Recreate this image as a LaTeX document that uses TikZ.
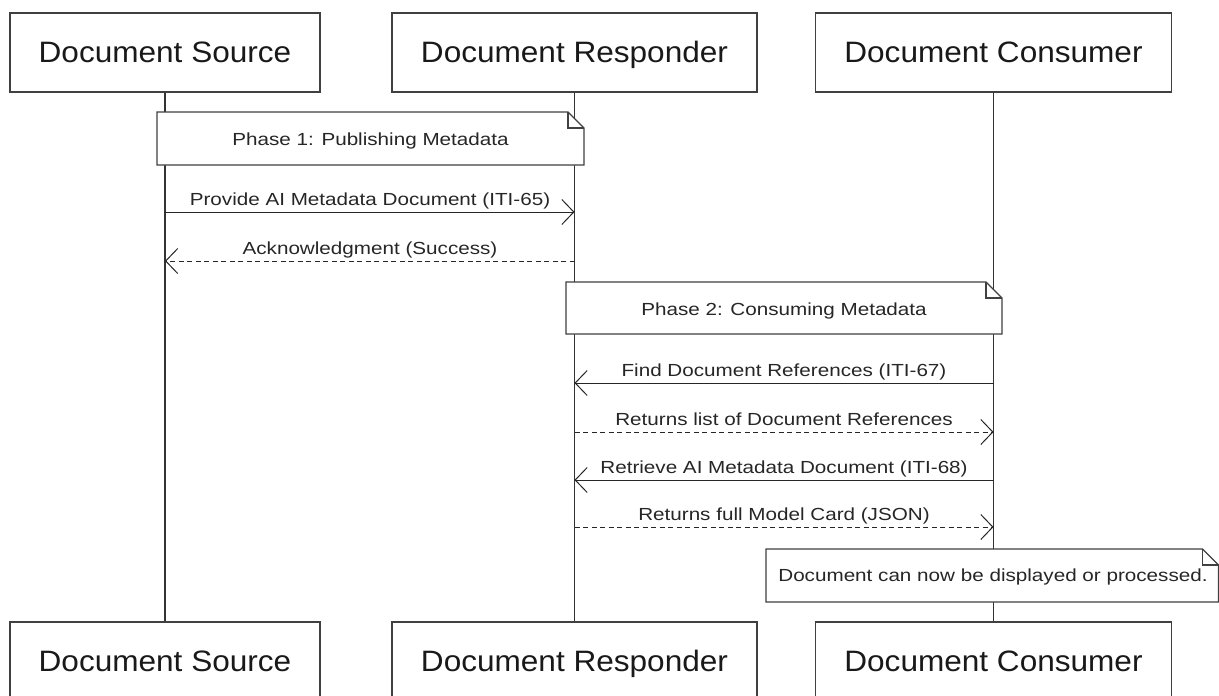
\documentclass[tikz,border=0pt]{standalone}
\usepackage{fontspec}
\setmainfont{Liberation Sans}
\newfontfamily\titlefont[FakeStretch=1.07]{Liberation Sans}
\newfontfamily\lblfont[FakeStretch=1.18]{Liberation Sans}
\usetikzlibrary{arrows.meta}
\pgfdeclarelayer{bg}
\pgfdeclarelayer{mid}
\pgfsetlayers{bg,mid,main}
\tikzset{
  actorbox/.style={draw=black!75, line width=1.2pt, fill=white, minimum height=79pt, inner sep=0pt,
    text height=19pt, text depth=0pt,
    font=\titlefont\fontsize{29.5}{30}\selectfont, text=black!90},
  lifeline/.style={draw=black!80, line width=1.2pt},
  msg/.style={draw=black!85, line width=1pt, -{Straight Barb[length=12pt,width=25pt,line width=1pt]}},
  reply/.style={msg, dash pattern=on 5pt off 3.5pt},
  lbl/.style={font=\lblfont\fontsize{17.5}{18}\selectfont, inner sep=0pt, anchor=base, text=black!85},
  notetext/.style={font=\lblfont\fontsize{17.5}{18}\selectfont, inner sep=0pt, anchor=base, text=black!85},
  noteline/.style={draw=black!75, line width=1.2pt, fill=white, line join=miter},
  foldline/.style={draw=black!75, line width=1.2pt}
}
\begin{document}
\begin{tikzpicture}[x=1pt,y=-1pt]
\useasboundingbox (0,0) rectangle (1219,696);
\clip (0,0) rectangle (1219,696);
% actors
\node[actorbox, minimum width=310pt] (srcT) at (165,52.5) {Document Source};
\node[actorbox, minimum width=365pt] (rspT) at (574.5,52.5) {Document Responder};
\node[actorbox, minimum width=356pt] (conT) at (993.5,52.5) {Document Consumer};
\node[actorbox, minimum width=310pt] (srcB) at (165,661.5) {Document Source};
\node[actorbox, minimum width=365pt] (rspB) at (574.5,661.5) {Document Responder};
\node[actorbox, minimum width=356pt] (conB) at (993.5,661.5) {Document Consumer};
% lifelines
\begin{pgfonlayer}{bg}
\draw[lifeline] (srcT.south) -- (srcB.north);
\draw[lifeline] (rspT.south) -- (rspB.north);
\draw[lifeline] (conT.south) -- (conB.north);
\end{pgfonlayer}
% notes
\node[notetext] (n1) at (370.5,145.5) {Phase 1: Publishing Metadata};
\node[notetext] (n2) at (784,315) {Phase 2: Consuming Metadata};
\node[notetext] (n3) at (993,581.5) {Document can now be displayed or processed.};
\begin{pgfonlayer}{mid}
\draw[noteline] (157,112) -- (568,112) -- (584,128) -- (584,165) -- (157,165) -- cycle;
\draw[foldline] (568,112) -- (568,128) -- (584,128);
\draw[noteline] (566,282) -- (986,282) -- (1002,298) -- (1002,334) -- (566,334) -- cycle;
\draw[foldline] (986,282) -- (986,298) -- (1002,298);
\draw[noteline] (766,549) -- (1202.5,549) -- (1218.5,565) -- (1218.5,602) -- (766,602) -- cycle;
\draw[foldline] (1202.5,549) -- (1202.5,565) -- (1218.5,565);
\end{pgfonlayer}
% message anchors
\coordinate (a1s) at (165,212);   \coordinate (a1r) at (574.5,212);
\coordinate (a2s) at (165,261);   \coordinate (a2r) at (574.5,261);
\coordinate (a3r) at (574.5,383); \coordinate (a3c) at (993.5,383);
\coordinate (a4r) at (574.5,432); \coordinate (a4c) at (993.5,432);
\coordinate (a5r) at (574.5,480); \coordinate (a5c) at (993.5,480);
\coordinate (a6r) at (574.5,527); \coordinate (a6c) at (993.5,527);
% messages
\draw[msg] (a1s) -- (a1r);
\node[lbl] (l1) at (370,205.5) {Provide AI Metadata Document (ITI-65)};
\draw[reply] (a2r) -- (a2s);
\node[lbl] (l2) at (370,254.5) {Acknowledgment (Success)};
\draw[msg] (a3c) -- (a3r);
\node[lbl] (l3) at (784,376.5) {Find Document References (ITI-67)};
\draw[reply] (a4r) -- (a4c);
\node[lbl] (l4) at (784,425.5) {Returns list of Document References};
\draw[msg] (a5c) -- (a5r);
\node[lbl] (l5) at (784,473.5) {Retrieve AI Metadata Document (ITI-68)};
\draw[reply] (a6r) -- (a6c);
\node[lbl] (l6) at (784,520.5) {Returns full Model Card (JSON)};
\end{tikzpicture}
\end{document}
